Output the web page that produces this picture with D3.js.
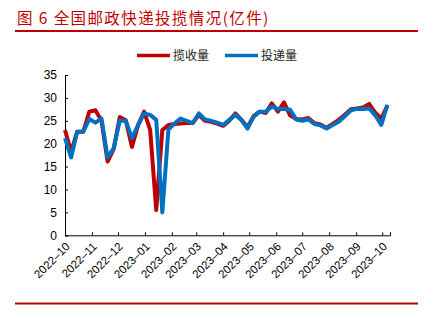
<!DOCTYPE html>
<html>
<head>
<meta charset="utf-8">
<script src="https://cdn.jsdelivr.net/npm/d3@7"></script>
<style>
  html, body { margin: 0; padding: 0; background: #fff; }
  svg { display: block; }
</style>
</head>
<body>
<svg id="chart" width="433" height="325"></svg>
<script>
// Weekly national postal & express volume, 亿件
const startDate = "2022-10-01";
const seriesNames = ["揽收量", "投递量"];
const collected = [
  23.0, 18.2, 22.6, 22.6, 27.0, 27.3, 25.0, 16.1, 18.8, 25.8,
  25.1, 19.3, 24.0, 27.0, 23.0, 5.5, 23.0, 24.1, 24.3, 24.4,
  24.5, 24.5, 26.3, 25.0, 24.8, 24.4, 23.9, 25.0, 26.6, 25.2,
  23.6, 26.0, 27.0, 26.7, 28.8, 27.0, 29.0, 26.2, 25.4, 25.3,
  25.6, 24.5, 24.2, 23.5, 24.3, 25.2, 26.3, 27.5, 27.7, 27.9,
  28.7, 26.8, 25.5, 28.3
];
const delivered = [
  21.2, 17.0, 22.6, 22.6, 25.4, 24.6, 25.5, 17.0, 19.0, 25.0,
  25.0, 21.2, 24.0, 26.6, 26.3, 25.2, 5.0, 23.1, 24.4, 25.5,
  25.0, 24.5, 26.6, 25.3, 25.0, 24.6, 24.1, 25.2, 26.3, 25.2,
  23.3, 25.9, 27.0, 27.0, 28.1, 27.6, 27.6, 27.4, 25.3, 25.0,
  25.3, 24.3, 24.0, 23.3, 24.1, 24.8, 26.0, 27.3, 27.6, 27.6,
  27.7, 26.2, 24.1, 28.5
];
const yTicks = [0, 5, 10, 15, 20, 25, 30, 35];
const monthTicks = [
  "2022-10", "2022-11", "2022-12", "2023-01", "2023-02", "2023-03", "2023-04",
  "2023-05", "2023-06", "2023-07", "2023-08", "2023-09", "2023-10"
];
const axisEnd = "2023-10-10";

const RED = "#c00000", BLUE = "#0070c0";
const svg = d3.select("#chart");

const parseDay = d3.timeParse("%Y-%m-%d");
const parseMonth = d3.timeParse("%Y-%m");
const t0 = parseDay(startDate);
const dates = collected.map((_, i) => d3.timeDay.offset(t0, 7 * i));

const x = d3.scaleTime().domain([t0, parseDay(axisEnd)]).range([65, 390]);
const y = d3.scaleLinear().domain([0, 35]).range([235.3, 75]);

// Title and rules
svg.append("text")
  .attr("x", 17).attr("y", 24)
  .attr("fill", RED)
  .attr("font-family", "'Noto Sans CJK SC', sans-serif")
  .attr("font-size", 15.5)
  .attr("letter-spacing", 1.4)
  .text("图 6 全国邮政快递投揽情况(亿件)");
svg.append("line").attr("x1", 15).attr("x2", 418).attr("y1", 31).attr("y2", 31)
  .attr("stroke", RED).attr("stroke-width", 2);
svg.append("line").attr("x1", 15).attr("x2", 418).attr("y1", 303.5).attr("y2", 303.5)
  .attr("stroke", RED).attr("stroke-width", 2);

// Legend
const legend = [
  { name: seriesNames[0], color: RED, x: 137 },
  { name: seriesNames[1], color: BLUE, x: 225 }
];
legend.forEach(d => {
  svg.append("line").attr("x1", d.x).attr("x2", d.x + 33)
    .attr("y1", 55.5).attr("y2", 55.5)
    .attr("stroke", d.color).attr("stroke-width", 3.5);
  svg.append("text").attr("x", d.x + 36).attr("y", 55.5).attr("dy", "0.36em")
    .attr("font-family", "'Noto Sans CJK SC', sans-serif")
    .attr("font-size", 12).attr("fill", "#222")
    .text(d.name);
});

// Y axis (ticks point into the plot)
const yAxis = svg.append("g").attr("transform", "translate(65,0)")
  .call(d3.axisRight(y).tickValues(yTicks).tickSize(3).tickFormat(d3.format("d")));
yAxis.select(".domain").attr("stroke", "#000");
yAxis.selectAll(".tick line").attr("stroke", "#000");
yAxis.selectAll(".tick text")
  .attr("x", -8).attr("text-anchor", "end")
  .attr("font-family", "'Liberation Sans', Arial, sans-serif")
  .attr("font-size", 12).attr("fill", "#000");

// X axis (monthly ticks, labels rotated)
const xTickDates = monthTicks.map(parseMonth);
const xAxis = svg.append("g").attr("transform", "translate(0,235.3)")
  .call(d3.axisTop(x).tickValues(xTickDates).tickSize(3).tickFormat(d3.timeFormat("%Y–%m")));
xAxis.select(".domain").attr("stroke", "#000");
xAxis.selectAll(".tick line").attr("stroke", "#000");
xAxis.selectAll(".tick text")
  .attr("x", 0).attr("y", 0).attr("dy", 0)
  .attr("text-anchor", "end")
  .attr("transform", "translate(5,12) rotate(-45)")
  .attr("font-family", "'Liberation Sans', Arial, sans-serif")
  .attr("font-size", 11.5).attr("fill", "#000");

// Series lines
const line = d3.line().x((d, i) => x(dates[i])).y(d => y(d));
svg.append("path").datum(collected)
  .attr("d", line).attr("fill", "none")
  .attr("stroke", RED).attr("stroke-width", 4).attr("stroke-linejoin", "round");
svg.append("path").datum(delivered)
  .attr("d", line).attr("fill", "none")
  .attr("stroke", BLUE).attr("stroke-width", 4).attr("stroke-linejoin", "round");
</script>
</body>
</html>
